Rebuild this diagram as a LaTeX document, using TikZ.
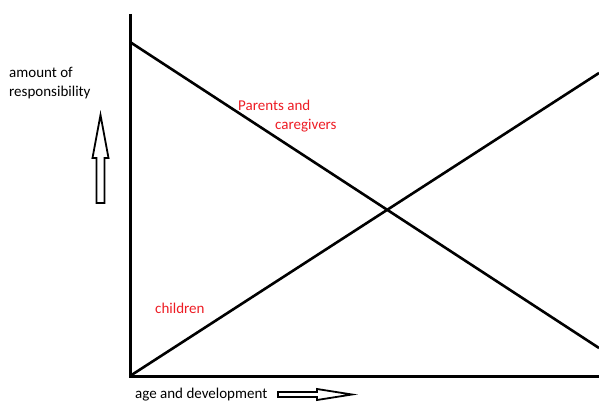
\documentclass[tikz,border=0pt]{standalone}
\usepackage{fontspec}
\setmainfont{Carlito}
\definecolor{paintred}{RGB}{237,28,36}
\begin{document}
\begin{tikzpicture}[x=1pt,y=-1pt,
  axis/.style={line width=3pt},
  trend/.style={line width=2.6pt},
  lbl/.style={inner sep=0pt,font=\fontsize{15}{18}\selectfont,anchor=west},
  redlbl/.style={lbl,text=paintred},
  hollow/.style={line width=1.8pt,line join=miter}]
\useasboundingbox (0,0) rectangle (599,403);
% axes
\coordinate (top) at (130,14);
\coordinate (origin) at (130,376);
\coordinate (xend) at (599,376);
\draw[axis] (top) -- (origin) -- (xend);
% trend lines
\coordinate (pstart) at (130,42);
\coordinate (pend) at (599,348);
\coordinate (cend) at (599,73);
\draw[trend] (pstart) -- (pend);
\draw[trend] (origin) -- (cend);
% labels
\node[lbl] (ylab1) at (9,72) {amount of};
\node[lbl] (ylab2) at (9,93) {responsibility};
\node[lbl] (xlab) at (135,395) {age and development};
\node[redlbl] (par1) at (238,105) {Parents and};
\node[redlbl] (par2) at (275,126) {caregivers};
\node[redlbl] (chil) at (155,308) {children};
% hollow up arrow
\draw[hollow] (96.5,203) -- (96.5,158) -- (92.5,158) -- (100.5,115) -- (108.5,158) -- (104.5,158) -- (104.5,203) -- cycle;
% hollow right arrow
\draw[hollow] (278,392) -- (317,392) -- (317,389) -- (352,394.5) -- (317,400) -- (317,397) -- (278,397) -- cycle;
\end{tikzpicture}
\end{document}
